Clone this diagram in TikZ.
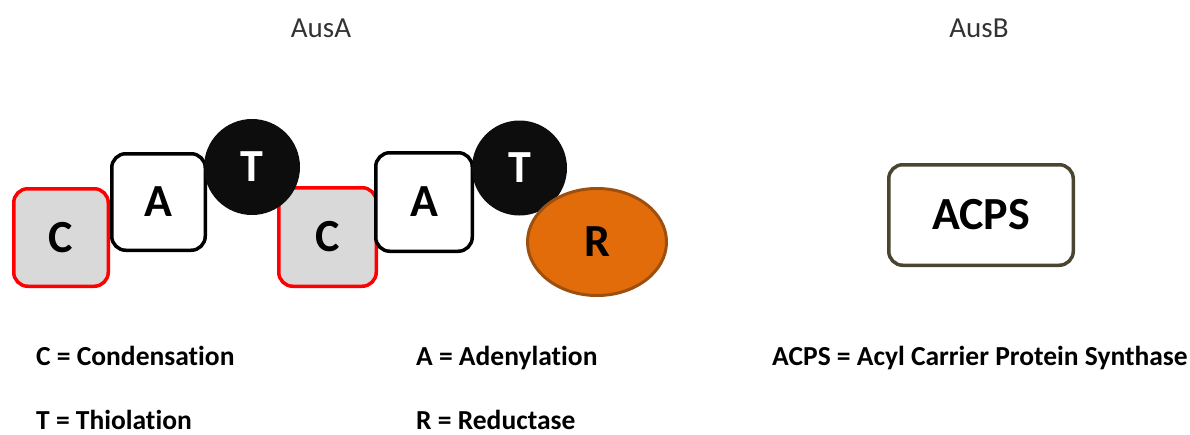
\documentclass[tikz,border=0pt]{standalone}
\usepackage{fontspec}
\setmainfont[Ligatures={NoCommon}]{Carlito}
\usetikzlibrary{shapes.geometric}
\definecolor{cgray}{HTML}{D9D9D9}
\definecolor{rorange}{HTML}{E36C0A}
\definecolor{rbrown}{HTML}{9C4F0F}
\definecolor{olive}{HTML}{4A4530}
\definecolor{tblack}{HTML}{0D0D0D}
\tikzset{
  x=1pt, y=-1pt,
  dom/.style={font=\fontsize{46}{50}\selectfont\bfseries, inner sep=0pt},
  cbox/.style={dom, rectangle, rounded corners=14pt, draw=red, fill=cgray, line width=3.5pt},
  abox/.style={dom, rectangle, rounded corners=14pt, draw=black, fill=white, line width=3.5pt},
  tcirc/.style={dom, circle, fill=tblack, text=white},
  rell/.style={dom, ellipse, draw=rbrown, fill=rorange, line width=3pt},
  acpsbox/.style={dom, rectangle, rounded corners=14pt, draw=olive, fill=white, line width=3.5pt},
  legend/.style={font=\fontsize{27.5}{30}\selectfont\bfseries, anchor=base west, inner sep=0pt},
  title/.style={font=\fontsize{29}{34}\selectfont, text=black!80, inner sep=0pt, anchor=base}
}
\begin{document}
\begin{tikzpicture}
\useasboundingbox (0,0) rectangle (1190,434);
\node[title] (ausa) at (321,37) {AusA};
\node[title] (ausb) at (979,37) {AusB};
\node[cbox, minimum width=94.5pt, minimum height=97.5pt] (c1) at (61,237.5) {C};
\node[abox, minimum width=93.5pt, minimum height=96.5pt] (a1) at (158.5,202) {A};
\node[cbox, minimum width=97.5pt, minimum height=98.5pt] (c2) at (327.5,237) {C};
\node[tcirc, minimum size=96pt] (t1) at (252,167) {T};
\node[abox, minimum width=96.5pt, minimum height=98.5pt] (a2) at (424,202) {A};
\node[tcirc, minimum size=95pt] (t2) at (519.5,168) {T};
\node[rell, minimum width=139pt, minimum height=107pt] (r) at (597,242) {R};
\node[acpsbox, minimum width=184.5pt, minimum height=100.5pt] (acps) at (981,215) {ACPS};
\node[legend] (lc) at (36,365) {C = Condensation};
\node[legend] (lt) at (36,429) {T = Thiolation};
\node[legend] (la) at (416,365) {A = Adenylation};
\node[legend] (lr) at (416,429) {R = Reductase};
\node[legend] (lacps) at (772,365) {ACPS = Acyl Carrier Protein Synthase};
\end{tikzpicture}
\end{document}
